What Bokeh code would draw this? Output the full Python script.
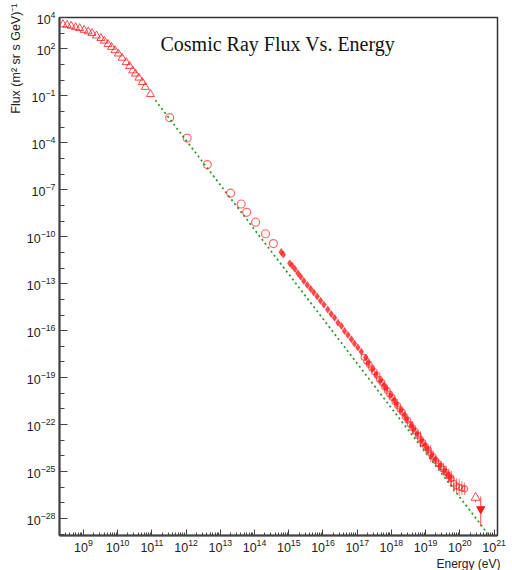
import math
from bokeh.plotting import figure
from bokeh.models import Range1d, FixedTicker, Label, Title
from bokeh.embed import file_html
from bokeh.resources import INLINE

# ---------------- data (log10 of energy in eV, log10 of flux) ----------------
tri_log_e = [8.40, 8.52, 8.64, 8.77, 8.89, 9.02, 9.14, 9.25, 9.38, 9.51, 9.61, 9.72,
             9.82, 9.92, 10.02, 10.13, 10.25, 10.35, 10.44, 10.52, 10.62, 10.72, 10.81, 10.96]
tri_log_f = [3.56, 3.52, 3.46, 3.37, 3.31, 3.20, 3.10, 3.00, 2.84, 2.68, 2.51, 2.30,
             2.11, 1.90, 1.69, 1.42, 1.14, 0.89, 0.61, 0.41, 0.15, -0.13, -0.44, -0.90]

circ_log_e = [11.52, 12.03, 12.62, 13.30, 13.61, 13.77, 14.03, 14.32, 14.55]
circ_log_f = [-2.40, -3.70, -5.39, -7.22, -7.91, -8.44, -9.07, -9.81, -10.44]

fill_log_e = [14.78, 14.84, 15.03, 15.10, 15.18, 15.27, 15.35, 15.44, 15.54, 15.64, 15.73,
              15.83, 15.93, 16.03, 16.14, 16.24, 16.34, 16.44, 16.54, 16.63, 16.73, 16.83,
              16.92, 17.02, 17.12, 17.25]
fill_log_f = [-10.97, -11.14, -11.70, -11.85, -12.06, -12.34, -12.55, -12.82, -13.08, -13.33,
              -13.56, -13.81, -14.09, -14.34, -14.65, -14.93, -15.18, -15.49, -15.70, -16.02,
              -16.27, -16.55, -16.82, -17.07, -17.35, -17.71]

hires_log_e = [17.32, 17.45, 17.55, 17.68, 17.78, 17.85, 17.98, 18.08, 18.15, 18.28, 18.38,
               18.45, 18.58, 18.65, 18.75, 18.88, 18.98, 19.05, 19.18, 19.28, 19.42, 19.55,
               19.65, 19.72]
hires_log_f = [-18.05, -18.45, -18.78, -19.18, -19.48, -19.70, -20.12, -20.42, -20.68, -21.08,
               -21.38, -21.65, -22.05, -22.30, -22.58, -23.02, -23.30, -23.55, -23.95, -24.22,
               -24.62, -24.95, -25.20, -25.40]

uhe_log_e = [17.20, 17.28, 17.35, 17.42, 17.50, 17.58, 17.65, 17.72, 17.80, 17.88, 17.95,
             18.02, 18.10, 18.18, 18.25, 18.32, 18.40, 18.48, 18.55, 18.62, 18.70, 18.78,
             18.85, 18.92, 19.00, 19.08, 19.15, 19.22, 19.30, 19.38, 19.45, 19.52, 19.60,
             19.68, 19.75, 19.82, 19.90, 19.98, 20.06, 20.14]
uhe_log_f = [-17.70, -17.95, -18.15, -18.38, -18.62, -18.85, -19.10, -19.30, -19.58, -19.82,
             -20.05, -20.25, -20.52, -20.78, -21.00, -21.20, -21.50, -21.72, -21.98, -22.20,
             -22.42, -22.70, -22.92, -23.15, -23.40, -23.62, -23.85, -24.05, -24.30, -24.50,
             -24.68, -24.85, -25.05, -25.25, -25.45, -25.75, -25.90, -26.00, -26.05, -26.10]
uhe_err = [0.04, 0.04, 0.05, 0.05, 0.05, 0.06, 0.06, 0.06, 0.07, 0.07, 0.08, 0.08, 0.09,
           0.10, 0.10, 0.12, 0.12, 0.14, 0.15, 0.40, 0.16, 0.18, 0.50, 0.20, 0.22, 0.25,
           0.55, 0.28, 0.30, 0.32, 0.35, 0.40, 0.45, 0.45, 0.50, 0.55, 0.50, 0.55, 0.45, 0.40]

top_tri_log_e = [20.46]
top_tri_log_f = [-26.66]
top_tri_err = [0.30]

last_log_e = [20.61]
last_log_f = [-27.39]
last_err_up = [0.80]
last_err_down = [1.10]

# fitted power law shown as a dotted green line (two end points)
fit_log_e = [11.10, 20.81]
fit_log_f = [-1.28, -28.95]

x_major_exp = list(range(9, 22))
y_major_exp = [4, 2, -1, -4, -7, -10, -13, -16, -19, -22, -25, -28]

title_text = "Cosmic Ray Flux Vs. Energy"
y_label_text = "Flux (m\u00b2 sr s GeV)\u207b\u00b9"
x_label_text = "Energy (eV)"


def p10(a):
    return [10.0 ** v for v in a]


RED = "#ff1a1a"

p = figure(width=512, height=570, x_axis_type="log", y_axis_type="log",
           x_range=Range1d(10 ** 8.30, 10 ** 21.10), y_range=Range1d(10 ** -29.08, 10 ** 4.0),
           output_backend="svg", toolbar_location=None,
           min_border_left=59, min_border_right=15, min_border_top=17, min_border_bottom=30)
p.background_fill_color = "white"
p.border_fill_color = "white"
p.xgrid.visible = False
p.ygrid.visible = False
p.outline_line_color = "#333333"
p.outline_line_width = 1.5

# fit line
p.line(p10(fit_log_e), p10(fit_log_f), line_color="#1f9a1f", line_width=1.7, line_dash="2 3")

# open triangles
p.scatter(p10(tri_log_e), p10(tri_log_f), marker="triangle", size=8,
          line_color=RED, fill_color=None, line_width=1, line_alpha=0.8)
# open circles
p.scatter(p10(circ_log_e), p10(circ_log_f), marker="circle", size=8,
          line_color=RED, fill_color=None, line_width=1.2, line_alpha=0.65)
# filled
p.scatter(p10(fill_log_e), p10(fill_log_f), marker="diamond", size=7,
          line_color=RED, fill_color=RED, line_alpha=0.45, fill_alpha=0.8)
p.scatter(p10(hires_log_e), p10(hires_log_f), marker="diamond", size=7,
          line_color=RED, fill_color=RED, line_alpha=0.45, fill_alpha=0.8)

# UHE points with error bars
uhe_lo = [10.0 ** (f - e) for f, e in zip(uhe_log_f, uhe_err)]
uhe_hi = [10.0 ** (f + e) for f, e in zip(uhe_log_f, uhe_err)]
p.segment(p10(uhe_log_e), uhe_lo, p10(uhe_log_e), uhe_hi, line_color=RED, line_width=1, line_alpha=0.6)
p.scatter(p10(uhe_log_e), p10(uhe_log_f), marker="circle", size=6,
          line_color=RED, fill_color=None, line_width=1.1, line_alpha=0.65)

tt_lo = [10.0 ** (f - e) for f, e in zip(top_tri_log_f, top_tri_err)]
tt_hi = [10.0 ** (f + e) for f, e in zip(top_tri_log_f, top_tri_err)]
p.segment(p10(top_tri_log_e), tt_lo, p10(top_tri_log_e), tt_hi, line_color=RED, line_width=1, line_alpha=0.7)
p.scatter(p10(top_tri_log_e), p10(top_tri_log_f), marker="triangle", size=9,
          line_color=RED, fill_color="white", line_width=1, line_alpha=0.8)

ls_lo = [10.0 ** (f - e) for f, e in zip(last_log_f, last_err_down)]
ls_hi = [10.0 ** (f + e) for f, e in zip(last_log_f, last_err_up)]
p.segment(p10(last_log_e), ls_lo, p10(last_log_e), ls_hi, line_color=RED, line_width=1, line_alpha=0.8)
p.scatter(p10(last_log_e), p10(last_log_f), marker="inverted_triangle", size=8,
          line_color=RED, fill_color=RED)

# ---------------- axes ----------------
x_minor = [m * 10.0 ** k for k in range(8, 21) for m in range(2, 10)]
p.xaxis.ticker = FixedTicker(ticks=p10(x_major_exp), minor_ticks=x_minor)
y_minor = [10.0 ** k for k in range(-29, 5)]
p.yaxis.ticker = FixedTicker(ticks=p10(y_major_exp), minor_ticks=y_minor)

for ax in (p.xaxis[0], p.yaxis[0]):
    ax.axis_line_color = "#444444"
    ax.axis_line_width = 2
    ax.major_tick_line_color = "#444444"
    ax.minor_tick_line_color = "#444444"
    ax.major_tick_out = 0
    ax.minor_tick_out = 0
    ax.major_label_text_font = "Liberation Sans"
    ax.major_label_text_font_size = "12.5px"
    ax.major_label_text_color = "#222222"

p.xaxis.major_tick_in = 6
p.xaxis.minor_tick_in = 3
p.yaxis.major_tick_in = 8
p.yaxis.minor_tick_in = 5
p.xaxis.major_label_standoff = 3
p.yaxis.major_label_standoff = 4

# ---------------- texts ----------------
p.add_layout(Label(x=101, y=492, x_units="screen", y_units="screen",
                   text=title_text, text_font="Liberation Serif",
                   text_font_size="20px", text_color="#111111", text_align="left",
                   text_baseline="alphabetic"))
p.add_layout(Title(text=y_label_text, align="right", text_font="Liberation Sans",
                   text_font_size="12.5px", text_font_style="normal", text_color="#222222",
                   standoff=1, offset=-14), "left")
p.add_layout(Title(text=x_label_text, align="right", text_font="Liberation Sans",
                   text_font_size="12px", text_font_style="normal", text_color="#222222",
                   standoff=0, offset=-3), "below")

open("out.html", "w").write(file_html(p, INLINE))
